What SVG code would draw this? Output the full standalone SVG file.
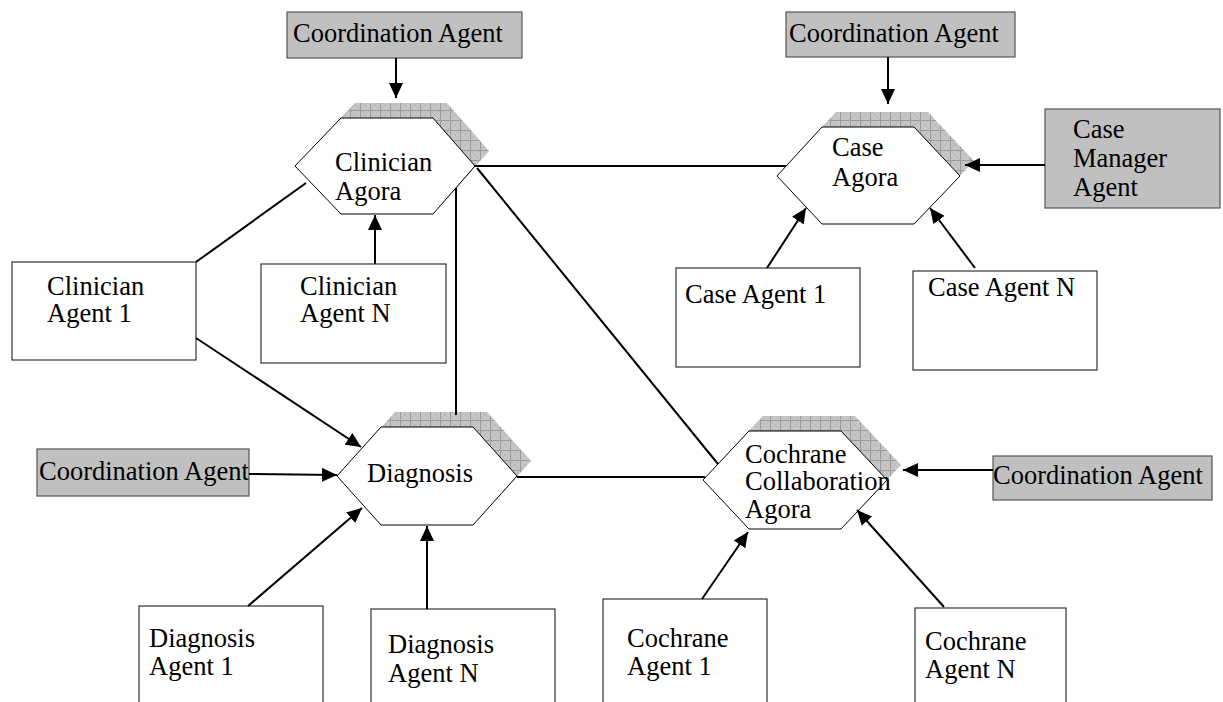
<svg xmlns="http://www.w3.org/2000/svg" width="1223" height="702" viewBox="0 0 1223 702">
<style>
text{font-family:"Liberation Serif","Times New Roman",serif;font-size:26.5px;fill:#000}
.box{fill:#fff;stroke:#333;stroke-width:1.2}
.gbox{fill:#c0c0c0;stroke:#555;stroke-width:1.2}
.hex{fill:#fff;stroke:#000;stroke-width:1}
.shadow{fill:url(#hatch);stroke:none}
.ln{stroke:#000;stroke-width:2;fill:none}
.ar{stroke:#000;stroke-width:2;fill:none;marker-end:url(#ah)}
</style>
<defs>
<pattern id="hatch" width="10" height="10" patternUnits="userSpaceOnUse">
<rect width="10" height="10" fill="#c6c6c6"/>
<path d="M0,0.5H10M0.5,0V10" stroke="#8e8e8e" stroke-width="0.8"/>
<path d="M0,0L10,10M10,0L0,10" stroke="#b0b0b0" stroke-width="0.5"/>
</pattern>
<marker id="ah" markerUnits="userSpaceOnUse" markerWidth="16" markerHeight="14" refX="15" refY="7" orient="auto">
<path d="M0,0L15,7L0,14z" fill="#000"/>
</marker>
</defs>
<rect width="1223" height="702" fill="#fff"/>

<g id="clinician-agora">
<polygon class="shadow" points="309,151 355,103 447,103 489,151 447,199 355,199"/>
<polygon class="hex" points="295,166 341,118 433,118 475,166 433,214 341,214"/>
<text x="335" y="171">Clinician</text>
<text x="335" y="200">Agora</text>
</g>
<g id="case-agora">
<polygon class="shadow" points="791,161 836,112 928,112 974,161 928,209 836,209"/>
<polygon class="hex" points="777,176 822,127 914,127 960,176 914,224 822,224"/>
<text x="832" y="156">Case</text>
<text x="832" y="186">Agora</text>
</g>
<g id="diagnosis">
<polygon class="shadow" points="351,461 395,412 487,412 531,461 487,510 395,510"/>
<polygon class="hex" points="337,476 381,427 473,427 517,476 473,525 381,525"/>
<text x="367" y="482">Diagnosis</text>
</g>
<g id="cochrane-agora">
<polygon class="shadow" points="717,465 763,416 855,416 901,465 855,514 763,514"/>
<polygon class="hex" points="703,480 749,431 841,431 887,480 841,529 749,529"/>
<text x="745" y="463">Cochrane</text>
<text x="745" y="490">Collaboration</text>
<text x="745" y="518">Agora</text>
</g>

<g id="coord-clinician">
<rect class="gbox" x="287" y="12" width="235" height="46"/>
<text x="293" y="42">Coordination Agent</text>
</g>
<g id="coord-case">
<rect class="gbox" x="786" y="12" width="229" height="45"/>
<text x="789" y="42">Coordination Agent</text>
</g>
<g id="coord-diagnosis">
<rect class="gbox" x="37" y="449" width="212" height="47"/>
<text x="39" y="480">Coordination Agent</text>
</g>
<g id="coord-cochrane">
<rect class="gbox" x="993" y="456" width="219" height="44"/>
<text x="993" y="484">Coordination Agent</text>
</g>
<g id="case-manager">
<rect class="gbox" x="1045" y="109" width="175" height="99"/>
<text x="1073" y="138">Case</text>
<text x="1073" y="167">Manager</text>
<text x="1073" y="196">Agent</text>
</g>

<g id="clinician-agent-1">
<rect class="box" x="12" y="262" width="184" height="98"/>
<text x="47" y="295">Clinician</text>
<text x="47" y="322">Agent 1</text>
</g>
<g id="clinician-agent-n">
<rect class="box" x="261" y="264" width="185" height="99"/>
<text x="300" y="295">Clinician</text>
<text x="300" y="322">Agent N</text>
</g>
<g id="case-agent-1">
<rect class="box" x="676" y="268" width="184" height="99"/>
<text x="685" y="303">Case Agent 1</text>
</g>
<g id="case-agent-n">
<rect class="box" x="913" y="271" width="184" height="99"/>
<text x="928" y="296">Case Agent N</text>
</g>
<g id="diagnosis-agent-1">
<rect class="box" x="139" y="606" width="184" height="110"/>
<text x="149" y="647">Diagnosis</text>
<text x="149" y="675">Agent 1</text>
</g>
<g id="diagnosis-agent-n">
<rect class="box" x="371" y="609" width="184" height="110"/>
<text x="388" y="653">Diagnosis</text>
<text x="388" y="682">Agent N</text>
</g>
<g id="cochrane-agent-1">
<rect class="box" x="603" y="599" width="164" height="110"/>
<text x="627" y="647">Cochrane</text>
<text x="627" y="675">Agent 1</text>
</g>
<g id="cochrane-agent-n">
<rect class="box" x="915" y="608" width="151" height="110"/>
<text x="925" y="650">Cochrane</text>
<text x="925" y="678">Agent N</text>
</g>

<g id="connectors">
<line class="ln" x1="196" y1="262" x2="306" y2="183"/>
<line class="ln" x1="475" y1="166" x2="786" y2="166"/>
<line class="ln" x1="477" y1="168" x2="718" y2="464"/>
<line class="ln" x1="456" y1="188" x2="456" y2="415"/>
<line class="ln" x1="517" y1="477" x2="705" y2="477"/>
<line class="ar" x1="396" y1="58" x2="396" y2="98"/>
<line class="ar" x1="888" y1="57" x2="888" y2="104"/>
<line class="ar" x1="375" y1="264" x2="375" y2="215"/>
<line class="ar" x1="196" y1="338" x2="361" y2="447"/>
<line class="ar" x1="249" y1="474" x2="337" y2="475"/>
<line class="ar" x1="248" y1="606" x2="362" y2="508"/>
<line class="ar" x1="427" y1="609" x2="427" y2="526"/>
<line class="ar" x1="702" y1="599" x2="748" y2="532"/>
<line class="ar" x1="944" y1="607" x2="857" y2="510"/>
<line class="ar" x1="993" y1="470" x2="903" y2="470"/>
<line class="ar" x1="1045" y1="165" x2="965" y2="165"/>
<line class="ar" x1="767" y1="268" x2="806" y2="208"/>
<line class="ar" x1="975" y1="268" x2="930" y2="208"/>
</g>
</svg>
